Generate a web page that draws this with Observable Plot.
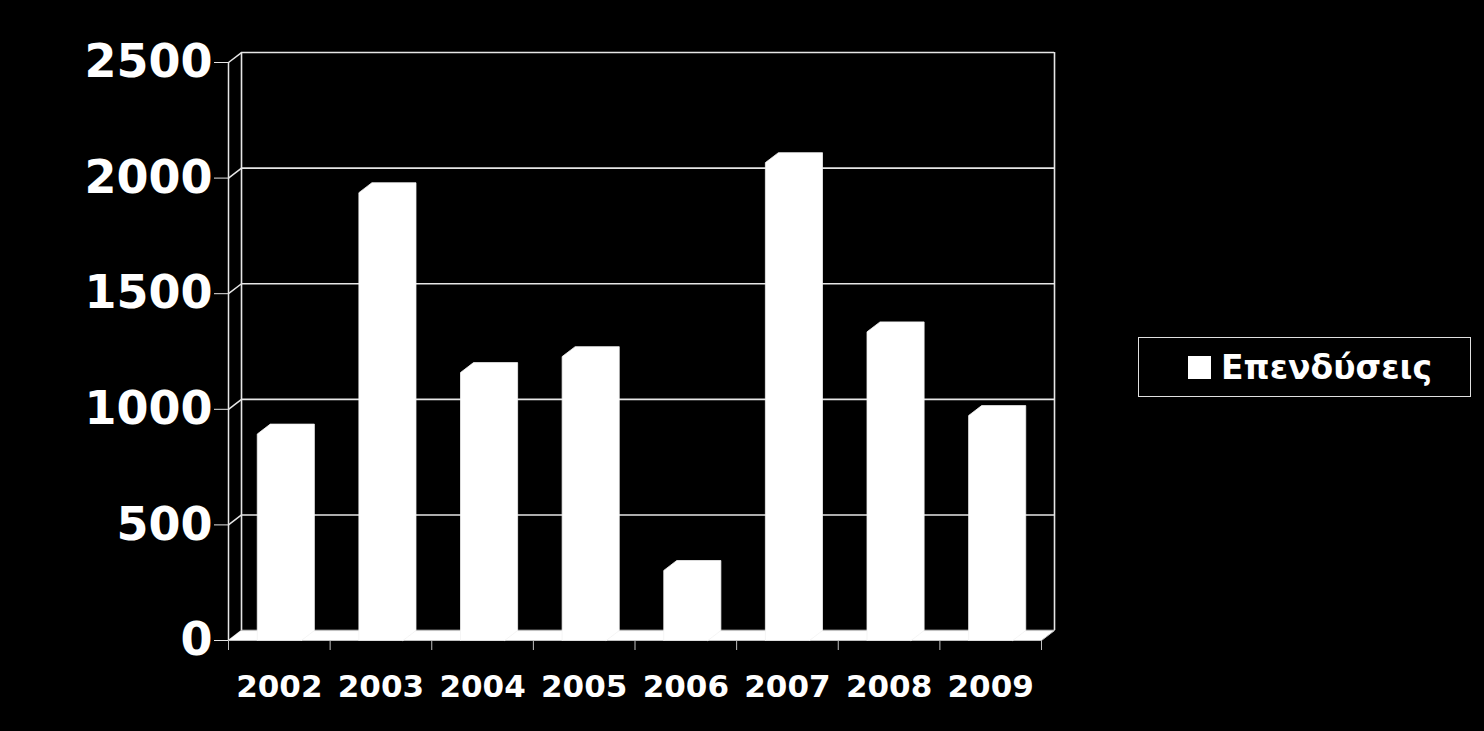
<!DOCTYPE html>
<html>
<head>
<meta charset="utf-8">
<script src="https://cdn.jsdelivr.net/npm/d3@7"></script>
<script src="https://cdn.jsdelivr.net/npm/@observablehq/plot@0.6"></script>
<style>
  html, body { margin: 0; padding: 0; background: #000; }
  #wrap { position: relative; width: 1484px; height: 731px; background: #000; }
  #wrap svg text { font-weight: bold; }
  #legend {
    position: absolute; left: 1138px; top: 337px; width: 331px; height: 58px;
    border: 1px solid #e0e0e0; box-sizing: content-box;
    font-family: "DejaVu Sans", sans-serif; font-weight: bold; font-size: 33px; color: #fff;
    display: flex; align-items: center;
  }
  #legend .sw { width: 23px; height: 23px; background: #fff; margin-left: 49px; margin-right: 10px; }
</style>
</head>
<body>
<div id="wrap"></div>
<script>
// ---- data ----
const years = [2002, 2003, 2004, 2005, 2006, 2007, 2008, 2009];
const values = [893, 1937, 1159, 1228, 303, 2067, 1335, 973];
const yTicks = [0, 500, 1000, 1500, 2000, 2500];
const seriesName = "Επενδύσεις";

// ---- 3D geometry (in data units) ----
const xMin = years[0] - 0.5, xMax = years[years.length - 1] + 0.5;
const depthX = 0.128;   // depth offset along x (years)
const depthY = 43;      // depth offset along y (value units)
const halfW = 0.217;    // half bar width (years)
const bounds = d3.range(xMin, xMax + 0.01, 1);

const barPts = [];
years.forEach((yr, i) => {
  const v = values[i], x0 = yr - halfW, x1 = yr + halfW;
  [[x0, 0], [x0, v], [x0 + depthX, v + depthY], [x1 + depthX, v + depthY], [x1 + depthX, depthY], [x1, 0]]
    .forEach(([x, y]) => barPts.push({year: yr, x, y}));
});
const floorPts = [[xMin, 0], [xMax, 0], [xMax + depthX, depthY], [xMin + depthX, depthY]].map(([x, y]) => ({x, y}));

const lineColor = "#e6e6e6";

const chart = Plot.plot({
  width: 1484, height: 731,
  marginLeft: 228, marginRight: 443, marginTop: 62, marginBottom: 91,
  style: {background: "#000", color: "#fff", fontFamily: "DejaVu Sans, sans-serif"},
  x: {type: "linear", domain: [xMin, xMax]},
  y: {type: "linear", domain: [0, 2500]},
  marks: [
    // back wall gridlines
    Plot.ruleY(yTicks, {y: d => d + depthY, x1: xMin + depthX, x2: xMax + depthX, stroke: lineColor, strokeWidth: 1.6}),
    // back wall left/right edges
    Plot.ruleX([xMin + depthX, xMax + depthX], {y1: depthY, y2: 2500 + depthY, stroke: lineColor, strokeWidth: 1.6}),
    // left wall diagonals
    Plot.link(yTicks, {x1: xMin, y1: d => d, x2: xMin + depthX, y2: d => d + depthY, stroke: lineColor, strokeWidth: 1.5}),
    // front vertical axis line
    Plot.ruleX([xMin], {y1: 0, y2: 2500, stroke: lineColor, strokeWidth: 1.5}),
    // floor
    Plot.line(floorPts, {x: "x", y: "y", fill: "#fff", stroke: "#bfbfbf", strokeWidth: 1}),
    // bars
    Plot.line(barPts, {x: "x", y: "y", z: "year", fill: "#fff", stroke: "#f2f2f2", strokeWidth: 0.8, curve: "linear"}),
    // y axis
    Plot.axisY({ticks: yTicks, tickSize: 14, tickPadding: 2, fontSize: 46, fontWeight: "bold", stroke: lineColor, fill: "#fff", label: null, tickFormat: d => String(d)}),
    // x axis ticks at category boundaries
    Plot.axisX({ticks: bounds, tickSize: 10, tickFormat: () => "", stroke: "#bfbfbf", label: null}),
    // x axis labels
    Plot.axisX({ticks: years, tickSize: 0, tickPadding: 34, fontSize: 31, fontWeight: "bold", fill: "#fff", label: null, tickFormat: d => String(d)})
  ]
});

const wrap = document.getElementById("wrap");
wrap.appendChild(chart);
const legend = document.createElement("div");
legend.id = "legend";
legend.innerHTML = `<div class="sw"></div><span></span>`;
legend.querySelector("span").textContent = seriesName;
wrap.appendChild(legend);
</script>
</body>
</html>
